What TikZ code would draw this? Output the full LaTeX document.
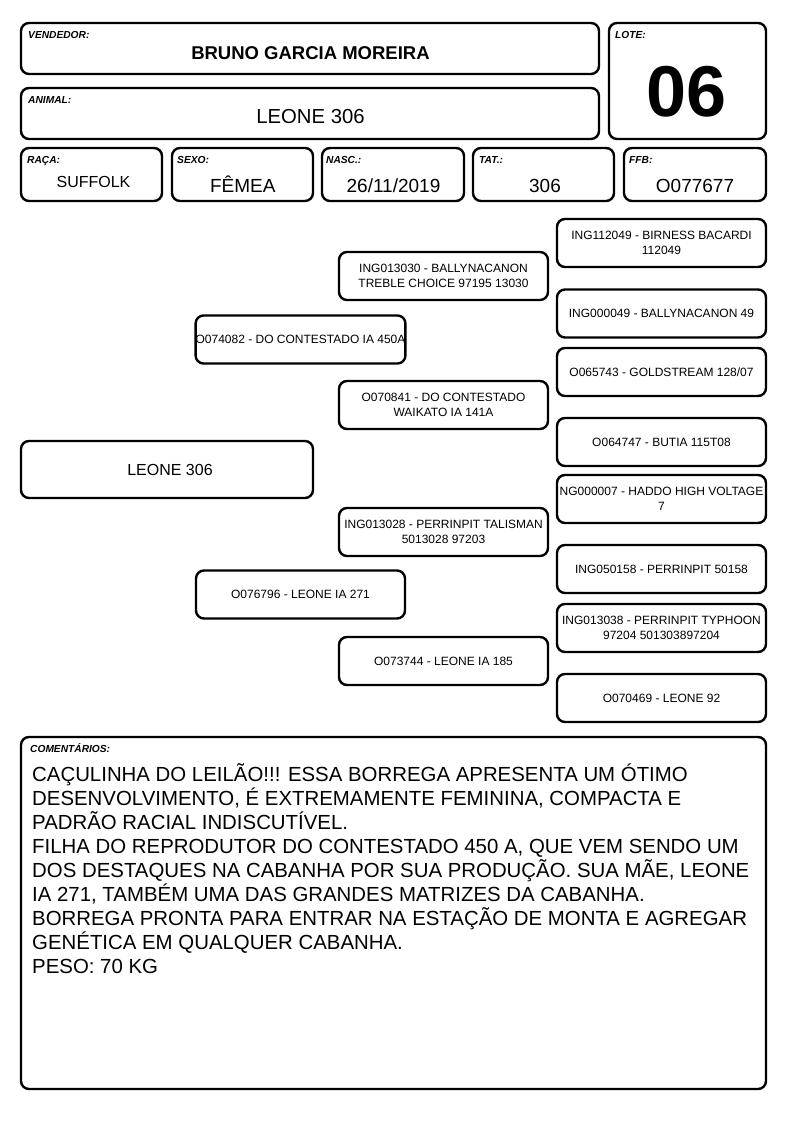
\documentclass[tikz,border=0pt]{standalone}
\usepackage{fontspec}
\setmainfont{Liberation Sans}
\newcommand\fsz[1]{\fontsize{#1}{#1}\selectfont}
\tikzset{
  box/.style={draw=black, line width=2.4pt, rounded corners=8pt, fill=white, inner sep=0pt},
  lbl/.style={anchor=base west, inner sep=0pt, font=\bfseries\itshape\fsz{10.2}},
  val/.style={anchor=base, inner sep=0pt, font=\fsz{19}},
  ped/.style={box, minimum width=209pt, minimum height=48pt, align=center, font=\fontsize{12}{15.3}\selectfont},
  cline/.style={anchor=base west, inner sep=0pt, font=\fsz{20.4}},
}
\begin{document}
\begin{tikzpicture}[x=1pt,y=-1pt]
\useasboundingbox[fill=white] (0,0) rectangle (794,1123);
% header
\node[box, minimum width=578pt, minimum height=51pt] (vend) at (310,48.5) {};
\node[lbl] (vendl) at (28,39) {VENDEDOR:};
\node[anchor=base, inner sep=0pt, font=\bfseries\fsz{18.5}] (vendv) at (310.5,60) {BRUNO GARCIA MOREIRA};
\node[box, minimum width=157pt, minimum height=116pt] (lote) at (687.5,81) {};
\node[lbl] (lotel) at (615,39) {LOTE:};
\node[anchor=base, inner sep=0pt, font=\bfseries\fsz{72}] (lotev) at (686.5,116.7) {06};
\node[box, minimum width=578pt, minimum height=51pt] (anim) at (310,113.5) {};
\node[lbl] (animl) at (28,104) {ANIMAL:};
\node[anchor=base, inner sep=0pt, font=\fsz{20.3}] (animv) at (310.5,123.5) {LEONE 306};
% row
\node[box, minimum width=141pt, minimum height=53pt] (raca) at (91.5,174.5) {};
\node[lbl] (racal) at (27,164) {RAÇA:};
\node[anchor=base, inner sep=0pt, font=\fsz{16}] (racav) at (93.5,188) {SUFFOLK};
\node[box, minimum width=141pt, minimum height=53pt] (sexo) at (242.5,174.5) {};
\node[lbl] (sexol) at (177,164) {SEXO:};
\node[val] (sexov) at (242.8,193) {FÊMEA};
\node[box, minimum width=142pt, minimum height=53pt] (nasc) at (393,174.5) {};
\node[lbl] (nascl) at (326,164) {NASC.:};
\node[val] (nascv) at (393.5,193) {26/11/2019};
\node[box, minimum width=141pt, minimum height=53pt] (tat) at (543.5,174.5) {};
\node[lbl] (tatl) at (479,164) {TAT.:};
\node[val] (tatv) at (545,193) {306};
\node[box, minimum width=142pt, minimum height=53pt] (ffb) at (695,174.5) {};
\node[lbl] (ffbl) at (629,164) {FFB:};
\node[val] (ffbv) at (695,193) {O077677};
% pedigree
\node[box, minimum width=292pt, minimum height=57pt] (p0) at (167,469.5) {};
\node[anchor=base, inner sep=0pt, font=\fsz{16}] (p0t) at (170,475.5) {LEONE 306};
\node[ped] (p1) at (300.5,339.5) {O074082 - DO CONTESTADO IA 450A};
\node[ped] (p2) at (300.5,594.5) {O076796 - LEONE IA 271};
\node[ped] (p3) at (443.5,276) {ING013030 - BALLYNACANON\\TREBLE CHOICE 97195 13030};
\node[ped] (p4) at (443.5,405) {O070841 - DO CONTESTADO\\WAIKATO IA 141A};
\node[ped] (p5) at (443.5,532) {ING013028 - PERRINPIT TALISMAN\\5013028 97203};
\node[ped] (p6) at (443.5,661) {O073744 - LEONE IA 185};
\node[ped] (p7) at (661.5,243) {ING112049 - BIRNESS BACARDI\\112049};
\node[ped] (p8) at (661.5,313.5) {ING000049 - BALLYNACANON 49};
\node[ped] (p9) at (661.5,372) {O065743 - GOLDSTREAM 128/07};
\node[ped] (p10) at (661.5,442) {O064747 - BUTIA 115T08};
\node[ped] (p11) at (661.5,499) {NG000007 - HADDO HIGH VOLTAGE\\7};
\node[ped] (p12) at (661.5,569) {ING050158 - PERRINPIT 50158};
\node[ped] (p13) at (661.5,628) {ING013038 - PERRINPIT TYPHOON\\97204 501303897204};
\node[ped] (p14) at (661.5,698) {O070469 - LEONE 92};
% comments
\node[box, minimum width=745pt, minimum height=352pt] (com) at (393.5,913) {};
\node[lbl] (coml) at (30,752) {COMENTÁRIOS:};
\node[cline] (c1) at (32,781) {CAÇULINHA DO LEILÃO!!! ESSA BORREGA APRESENTA UM ÓTIMO};
\node[cline] (c2) at (32,805) {DESENVOLVIMENTO, É EXTREMAMENTE FEMININA, COMPACTA E};
\node[cline] (c3) at (32,829) {PADRÃO RACIAL INDISCUTÍVEL.};
\node[cline] (c4) at (32,853) {FILHA DO REPRODUTOR DO CONTESTADO 450 A, QUE VEM SENDO UM};
\node[cline] (c5) at (32,877) {DOS DESTAQUES NA CABANHA POR SUA PRODUÇÃO. SUA MÃE, LEONE};
\node[cline] (c6) at (32,901) {IA 271, TAMBÉM UMA DAS GRANDES MATRIZES DA CABANHA.};
\node[cline] (c7) at (32,925) {BORREGA PRONTA PARA ENTRAR NA ESTAÇÃO DE MONTA E AGREGAR};
\node[cline] (c8) at (32,949) {GENÉTICA EM QUALQUER CABANHA.};
\node[cline] (c9) at (32,973) {PESO: 70 KG};
\end{tikzpicture}
\end{document}
